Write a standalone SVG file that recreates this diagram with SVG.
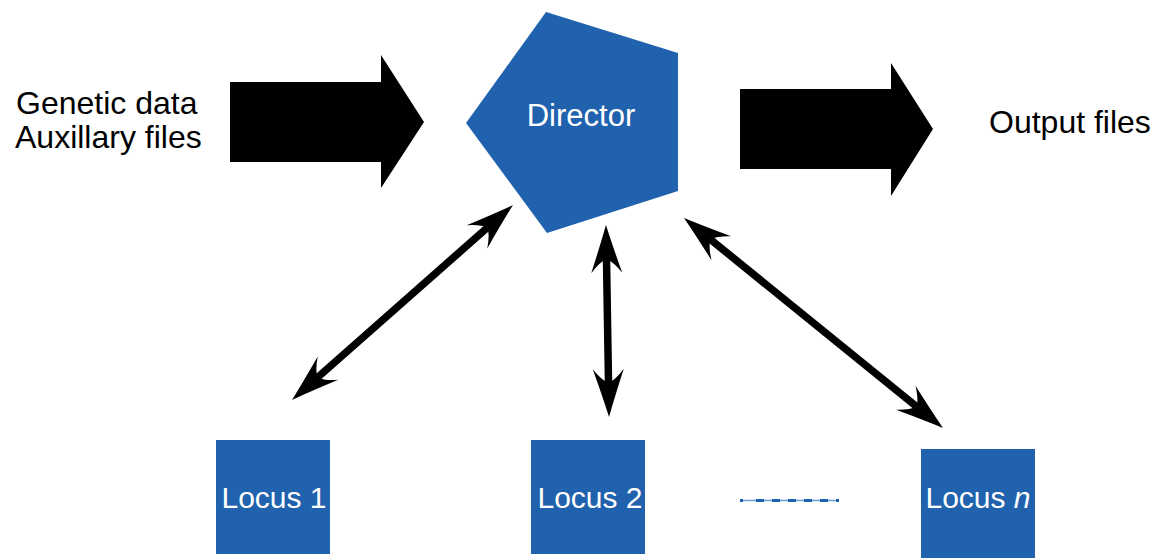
<svg xmlns="http://www.w3.org/2000/svg" width="1153" height="558" viewBox="0 0 1153 558">
<style>
text{font-family:"Liberation Sans",Arial,Helvetica,sans-serif;}
.lbl{font-size:32px;fill:#000;}
.wht{fill:#fff;text-anchor:middle;}
.node{fill:#2162ae;}
.big{fill:#000;}
.conn{stroke:#000;stroke-width:7.5;fill:none;marker-start:url(#hd);marker-end:url(#hd);}
</style>
<defs>
<marker id="hd" markerUnits="userSpaceOnUse" markerWidth="60" markerHeight="40" refX="14" refY="20" orient="auto-start-reverse" overflow="visible">
<path d="M0,4.5 Q28,14 48,20 Q28,26 0,35.5 Q11,27 14,20 Q11,13 0,4.5 Z" fill="#000"/>
</marker>
</defs>
<rect width="1153" height="558" fill="#fff"/>
<g id="inputs">
<text class="lbl" x="16" y="114">Genetic data</text>
<text class="lbl" x="15" y="148">Auxillary files</text>
</g>
<g id="arrow-in">
<polygon class="big" points="230,82 381,82 381,55 424,122 381,188 381,162 230,162"/>
</g>
<g id="director">
<polygon class="node" points="546,12 678,53 678,191 547,233 466,123"/>
<text class="wht" x="581" y="126" style="font-size:31px">Director</text>
</g>
<g id="arrow-out">
<polygon class="big" points="740,89 891,89 891,63 933,129 891,196 891,169 740,169"/>
</g>
<g id="outputs">
<text class="lbl" x="989" y="133">Output files</text>
</g>
<g id="locus1">
<rect class="node" x="216" y="440" width="114" height="114"/>
<text class="wht" x="274" y="508" style="font-size:30px">Locus 1</text>
</g>
<g id="locus2">
<rect class="node" x="531" y="440" width="114" height="114"/>
<text class="wht" x="590" y="508" style="font-size:30px">Locus 2</text>
</g>
<g id="locusn">
<rect class="node" x="921" y="449" width="114" height="109"/>
<text class="wht" x="978" y="508" style="font-size:30px">Locus <tspan font-style="italic">n</tspan></text>
</g>
<g id="ellipsis">
<line x1="740" y1="500.5" x2="839" y2="500.5" stroke="#6f9cd4" stroke-width="1.5"/>
<line x1="740" y1="500.5" x2="839" y2="500.5" stroke="#2162ae" stroke-width="3" stroke-dasharray="3 13 8 8 8 8 8 8 8 8 8 8 8 8"/>
</g>
<g id="connectors">
<line class="conn" x1="487.5" y1="227.5" x2="317.5" y2="377.5"/>
<line class="conn" x1="606.5" y1="259" x2="608.5" y2="383"/>
<line class="conn" x1="710.4" y1="239.4" x2="916.6" y2="406.6"/>
</g>
</svg>
